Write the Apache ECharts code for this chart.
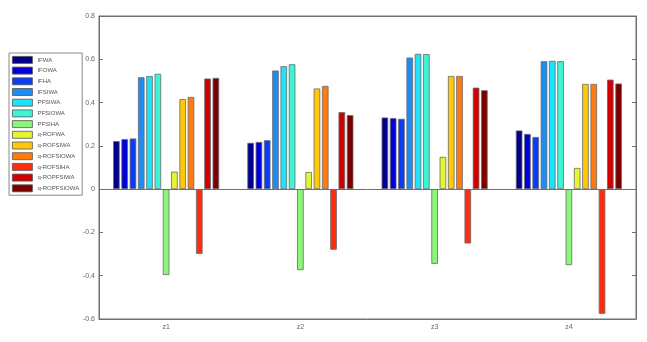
<!DOCTYPE html>
<html>
<head>
<meta charset="utf-8">
<script src="https://cdn.jsdelivr.net/npm/echarts@6/dist/echarts.min.js"></script>
<style>
html,body{margin:0;padding:0;background:#fff;}
#c{width:647px;height:342px;}
</style>
</head>
<body>
<div id="c"></div>
<script>
var categories = ['z1', 'z2', 'z3', 'z4'];
var seriesNames = ['IFWA', 'IFOWA', 'IFHA', 'IFSIWA', 'PFSIWA', 'PFSIOWA', 'PFSIHA',
  'q-ROFWA', 'q-ROFSIWA', 'q-ROFSIOWA', 'q-ROFSIHA', 'q-ROPFSIWA', 'q-ROPFSIOWA'];
var IFWA = [0.222, 0.214, 0.331, 0.271];
var IFOWA = [0.231, 0.218, 0.328, 0.255];
var IFHA = [0.234, 0.226, 0.325, 0.241];
var IFSIWA = [0.517, 0.548, 0.608, 0.591];
var PFSIWA = [0.523, 0.568, 0.625, 0.593];
var PFSIOWA = [0.533, 0.577, 0.624, 0.591];
var PFSIHA = [-0.397, -0.374, -0.345, -0.351];
var qROFWA = [0.081, 0.079, 0.149, 0.098];
var qROFSIWA = [0.416, 0.465, 0.523, 0.486];
var qROFSIOWA = [0.426, 0.477, 0.523, 0.486];
var qROFSIHA = [-0.299, -0.280, -0.251, -0.576];
var qROPFSIWA = [0.511, 0.356, 0.469, 0.506];
var qROPFSIOWA = [0.514, 0.342, 0.457, 0.488];
var seriesValues = [IFWA, IFOWA, IFHA, IFSIWA, PFSIWA, PFSIOWA, PFSIHA,
  qROFWA, qROFSIWA, qROFSIOWA, qROFSIHA, qROPFSIWA, qROPFSIOWA];
var colors = ['#00008c', '#0000d8', '#0a3cf5', '#1e8cf0', '#1ee1fa', '#3cf5d2', '#8cf57a',
  '#e6f532', '#ffc80a', '#ff7a0f', '#ff2d0f', '#d00000', '#7d0000'];
var yTicks = [-0.6, -0.4, -0.2, 0, 0.2, 0.4, 0.6, 0.8];

var chart = echarts.init(document.getElementById('c'));
var font = 'Liberation Sans, Arial, sans-serif';
var series = seriesNames.map(function (n, i) {
  var s = {
    name: n,
    type: 'bar',
    data: seriesValues[i],
    barCategoryGap: '21%',
    barGap: '26%',
    itemStyle: { color: colors[i], borderColor: '#6a6a6a', borderWidth: 0.8 },
    animation: false
  };
  if (i === 0) {
    s.markLine = {
      silent: true, symbol: 'none', label: { show: false },
      lineStyle: { color: '#707070', type: 'solid', width: 1 },
      data: [{ yAxis: 0 }], animation: false
    };
  }
  return s;
});

chart.setOption({
  animation: false,
  backgroundColor: '#fff',
  color: colors,
  grid: { left: 99, right: 11, top: 16, bottom: 23, show: true, borderColor: '#707070', borderWidth: 1 },
  legend: {
    orient: 'vertical', left: 9, top: 53,
    icon: 'rect',
    itemWidth: 20, itemHeight: 7, itemGap: 2.9, itemTextGap: 2, padding: [3, 3, 3, 3],
    borderColor: '#888', borderWidth: 1, backgroundColor: '#fff',
    itemStyle: { borderColor: '#555', borderWidth: 0.8 },
    textStyle: { fontSize: 6, color: '#555', fontFamily: font, lineHeight: 7 },
    data: seriesNames
  },
  xAxis: [{
    type: 'category', data: categories, position: 'bottom',
    axisLine: { onZero: false, lineStyle: { color: '#707070' } },
    axisTick: { inside: true, alignWithLabel: true, length: 4, lineStyle: { color: '#707070' } },
    axisLabel: { fontSize: 7, color: '#666', fontFamily: font, margin: 5 }
  }, {
    type: 'category', data: categories, position: 'top',
    axisLine: { onZero: false, lineStyle: { color: '#707070' } },
    axisTick: { inside: true, alignWithLabel: true, length: 4, lineStyle: { color: '#707070' } },
    axisLabel: { show: false }
  }],
  yAxis: [{
    type: 'value', min: -0.6, max: 0.8, interval: 0.2, position: 'left',
    axisLine: { show: true, onZero: false, lineStyle: { color: '#707070' } },
    axisTick: { show: true, inside: true, length: 4, lineStyle: { color: '#707070' } },
    splitLine: { show: false },
    axisLabel: {
      fontSize: 7, color: '#666', fontFamily: font, margin: 4,
      formatter: function (v) { var r = Math.round(v * 10) / 10; return r === 0 ? '0' : r.toFixed(1); }
    }
  }, {
    type: 'value', min: -0.6, max: 0.8, interval: 0.2, position: 'right',
    axisLine: { show: true, onZero: false, lineStyle: { color: '#707070' } },
    axisTick: { show: true, inside: true, length: 4, lineStyle: { color: '#707070' } },
    splitLine: { show: false },
    axisLabel: { show: false }
  }],
  series: series
});
</script>
</body>
</html>
